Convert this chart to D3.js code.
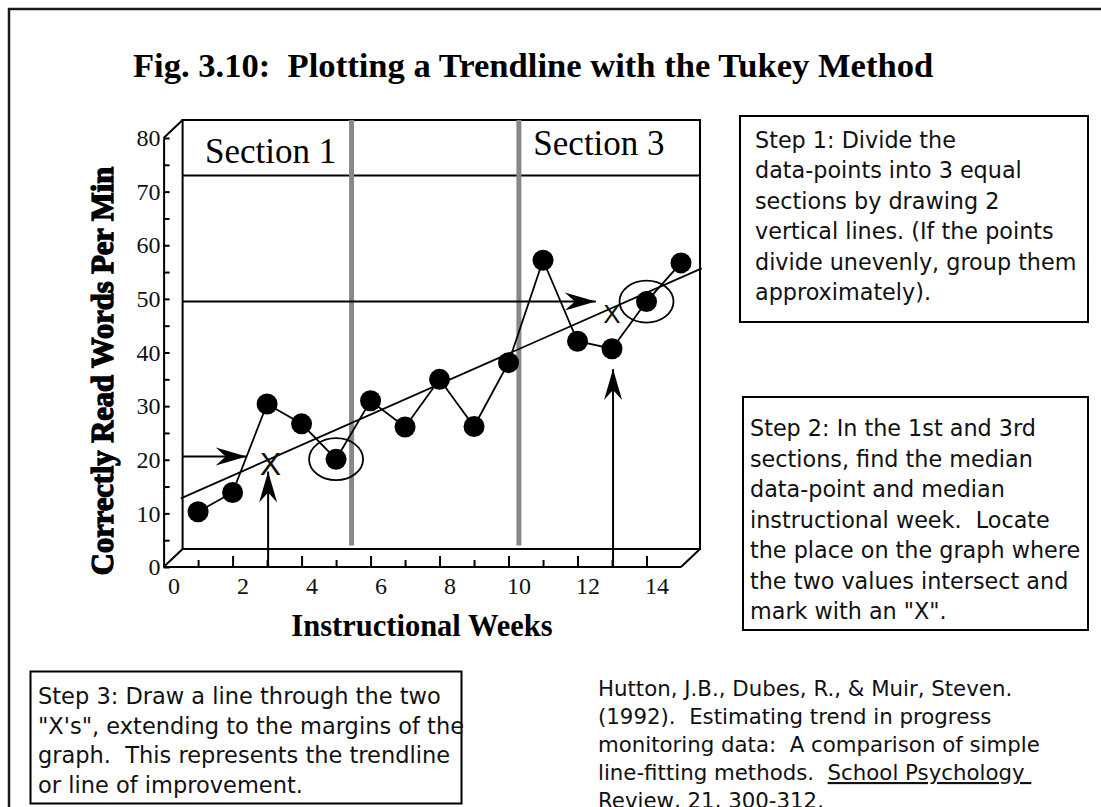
<!DOCTYPE html>
<html>
<head>
<meta charset="utf-8">
<script src="https://cdn.jsdelivr.net/npm/d3@7"></script>
<style>
  body { margin: 0; background: #fff; }
  svg { display: block; }
  text { white-space: pre; }
</style>
</head>
<body>
<script>
const width = 1101;
const height = 807;

// weekly scores
const weeks = d3.range(1, 16);
const wordsPerMin = [10.3, 13.9, 30.4, 26.7, 20.1, 31.0, 26.1, 35.0, 26.2, 38.1, 57.2, 42.1, 40.7, 49.5, 56.7];

// section dividers and their header labels
const sectionBreaks = [5.45, 10.3];
const sectionLabels = ['Section 1', 'Section 3'];
const sectionLabelWeeks = [1.2, 10.72];
const sectionLabelWpm = [75.4, 76.8];
const sectionRuleWpm = 73;

// Tukey medians, the X marks and the trendline
const medianPoints = [4, 13];          // index of the circled points
const tukeyWeeks = [3.1, 13.0];
const tukeyWpm = [19.3, 47.2];
const tukeySizes = [32, 26];
const trendWeeks = [0.5, 15.6];
const trendWpm = [12.8, 55.7];

// guide arrows
const hArrowWpm = [20.6, 49.5];
const hArrowTipWeeks = [2.41, 12.53];
const vArrowWeeks = [3.03, 13.03];
const vArrowTipWpm = [17.8, 36.9];

// ticks
const yTicks = d3.range(0, 81, 5);
const xTicks = d3.range(1, 15);
const xLabels = d3.range(0, 15, 2);

// text boxes
const step1Lines = [
  'Step 1: Divide the',
  'data-points into 3 equal',
  'sections by drawing 2',
  'vertical lines. (If the points',
  'divide unevenly, group them',
  'approximately).'
];
const step2Lines = [
  'Step 2: In the 1st and 3rd',
  'sections, find the median',
  'data-point and median',
  'instructional week.  Locate',
  'the place on the graph where',
  'the two values intersect and',
  'mark with an "X".'
];
const step3Lines = [
  'Step 3: Draw a line through the two',
  '"X\'s", extending to the margins of the',
  'graph.  This represents the trendline',
  'or line of improvement.'
];
const citeLines = [
  'Hutton, J.B., Dubes, R., & Muir, Steven.',
  '(1992).  Estimating trend in progress',
  'monitoring data:  A comparison of simple',
  'line-fitting methods.  |School Psychology ',
  'Review, 21, 300-312.'
];

const serif = '"Liberation Serif", "Times New Roman", serif';
const sans = '"DejaVu Sans", Verdana, sans-serif';

const svg = d3.select('body').append('svg')
  .attr('width', width)
  .attr('height', height);

// page border
svg.append('rect')
  .attr('x', 9).attr('y', 9)
  .attr('width', width + 50).attr('height', height + 50)
  .attr('fill', 'none').attr('stroke', '#1a1a1a').attr('stroke-width', 2.5);

svg.append('text')
  .attr('x', 133).attr('y', 77)
  .attr('font-family', serif).attr('font-weight', 'bold').attr('font-size', 34.6)
  .text('Fig. 3.10:  Plotting a Trendline with the Tukey Method');

const x = d3.scaleLinear().domain([0, 15]).range([163.6, 681]);
const y = d3.scaleLinear().domain([0, 80]).range([567, 138]);
const depthX = 19;
const depthY = -18;

const backLeft = x(0) + depthX;
const backRight = x(15) + depthX;
const backTop = y(80) + depthY;
const backBottom = y(0) + depthY;

const frame = svg.append('g')
  .attr('fill', 'none').attr('stroke', '#000').attr('stroke-width', 2);

frame.append('rect')
  .attr('x', backLeft).attr('y', backTop)
  .attr('width', backRight - backLeft).attr('height', backBottom - backTop);

frame.append('path')
  .attr('d', [
    `M${x(0)},${y(80)}L${backLeft},${backTop}`,
    `M${x(0)},${y(0)}L${backLeft},${backBottom}`,
    `M${x(15)},${y(0)}L${backRight},${backBottom}`,
    `M${x(0)},${y(0)}L${x(15)},${y(0)}`
  ].join(''));

// section header rule
frame.append('line')
  .attr('x1', backLeft).attr('x2', backRight)
  .attr('y1', y(sectionRuleWpm)).attr('y2', y(sectionRuleWpm));

// y axis (ticks point inward, labels outside)
const yAxis = svg.append('g')
  .attr('transform', `translate(${x(0)},0)`)
  .call(d3.axisLeft(y)
    .tickValues(yTicks)
    .tickSizeInner(-6)
    .tickSizeOuter(0)
    .tickPadding(3)
    .tickFormat((d) => (d % 10 ? '' : d)));
yAxis.select('.domain').attr('stroke-width', 2);
yAxis.selectAll('.tick line').attr('stroke-width', 2);
yAxis.selectAll('text')
  .attr('font-family', serif).attr('font-size', 24).attr('fill', '#111');

// x axis ticks: long on even weeks, short on odd
const xAxis = svg.append('g')
  .attr('transform', `translate(0,${y(0)})`)
  .call(d3.axisBottom(x).tickValues(xTicks).tickSizeInner(-11).tickSizeOuter(0).tickFormat(''));
xAxis.select('.domain').remove();
xAxis.selectAll('.tick line')
  .attr('stroke-width', 2)
  .attr('y2', (d) => (d % 2 ? -7 : -11));

const xLabelAxis = svg.append('g')
  .attr('transform', `translate(0,${y(0)})`)
  .call(d3.axisBottom(x).tickValues(xLabels).tickSize(0).tickPadding(10));
xLabelAxis.select('.domain').remove();
xLabelAxis.selectAll('text')
  .attr('dx', 10)
  .attr('font-family', serif).attr('font-size', 24).attr('fill', '#111');

svg.append('text')
  .attr('transform', 'translate(113,371) rotate(-90)')
  .attr('text-anchor', 'middle')
  .attr('font-family', serif).attr('font-weight', 'bold').attr('font-size', 30.5)
  .attr('stroke', '#000').attr('stroke-width', 1.3)
  .text('Correctly Read Words Per Min');

svg.append('text')
  .attr('x', 422).attr('y', 636)
  .attr('text-anchor', 'middle')
  .attr('font-family', serif).attr('font-weight', 'bold').attr('font-size', 30.5)
  .text('Instructional Weeks');

// section dividers
svg.selectAll('.divider')
  .data(sectionBreaks)
  .join('line')
  .attr('class', 'divider')
  .attr('x1', (d) => x(d)).attr('x2', (d) => x(d))
  .attr('y1', y(4)).attr('y2', backTop)
  .attr('stroke', '#888').attr('stroke-width', 5);

svg.selectAll('.section-label')
  .data(sectionLabels)
  .join('text')
  .attr('class', 'section-label')
  .attr('x', (d, i) => x(sectionLabelWeeks[i]))
  .attr('y', (d, i) => y(sectionLabelWpm[i]))
  .attr('font-family', serif).attr('font-size', 35)
  .text((d) => d);

// arrowhead
svg.append('defs').append('marker')
  .attr('id', 'head')
  .attr('viewBox', '-32 -11 34 22')
  .attr('refX', 0).attr('refY', 0)
  .attr('markerWidth', 34).attr('markerHeight', 22)
  .attr('markerUnits', 'userSpaceOnUse')
  .attr('orient', 'auto')
  .append('path')
  .attr('d', 'M0,0L-31,-9L-21,0L-31,9Z')
  .attr('fill', '#000');

const guides = svg.append('g')
  .attr('stroke', '#000').attr('stroke-width', 2);

guides.selectAll('.h-arrow')
  .data(hArrowWpm)
  .join('line')
  .attr('class', 'h-arrow')
  .attr('x1', backLeft).attr('x2', (d, i) => x(hArrowTipWeeks[i]))
  .attr('y1', (d) => y(d)).attr('y2', (d) => y(d))
  .attr('marker-end', 'url(#head)');

guides.selectAll('.v-arrow')
  .data(vArrowWeeks)
  .join('line')
  .attr('class', 'v-arrow')
  .attr('x1', (d) => x(d)).attr('x2', (d) => x(d))
  .attr('y1', y(0)).attr('y2', (d, i) => y(vArrowTipWpm[i]))
  .attr('marker-end', 'url(#head)');

// trendline
svg.append('line')
  .attr('x1', x(trendWeeks[0])).attr('y1', y(trendWpm[0]))
  .attr('x2', x(trendWeeks[1])).attr('y2', y(trendWpm[1]))
  .attr('stroke', '#000').attr('stroke-width', 1.8);

// data
const line = d3.line()
  .x((d, i) => x(weeks[i]))
  .y((d) => y(d));

svg.append('path')
  .datum(wordsPerMin)
  .attr('d', line)
  .attr('fill', 'none').attr('stroke', '#000').attr('stroke-width', 1.8);

svg.selectAll('.dot')
  .data(wordsPerMin)
  .join('circle')
  .attr('class', 'dot')
  .attr('cx', (d, i) => x(weeks[i]))
  .attr('cy', (d) => y(d))
  .attr('r', 10.5)
  .attr('fill', '#000');

svg.selectAll('.median-ring')
  .data(medianPoints)
  .join('ellipse')
  .attr('class', 'median-ring')
  .attr('cx', (d) => x(weeks[d]))
  .attr('cy', (d) => y(wordsPerMin[d]))
  .attr('rx', 27).attr('ry', 21)
  .attr('fill', 'none').attr('stroke', '#000').attr('stroke-width', 1.8);

svg.selectAll('.tukey-x')
  .data(tukeyWeeks)
  .join('text')
  .attr('class', 'tukey-x')
  .attr('x', (d) => x(d))
  .attr('y', (d, i) => y(tukeyWpm[i]))
  .attr('text-anchor', 'middle')
  .attr('dominant-baseline', 'central')
  .attr('font-family', '"Liberation Sans", Arial, sans-serif')
  .attr('font-size', (d, i) => tukeySizes[i])
  .attr('fill', '#111')
  .text('X');

// text boxes
function textBlock (lines, left, top, gap, size) {
  const t = svg.append('text')
    .attr('font-family', sans).attr('font-size', size).attr('fill', '#111');
  lines.forEach((str, i) => {
    const parts = str.split('|');
    t.append('tspan')
      .attr('x', left).attr('y', top + i * gap)
      .text(parts[0]);
    if (parts[1]) {
      t.append('tspan')
        .attr('text-decoration', 'underline')
        .text(parts[1]);
    }
  });
}

function box (bx, by, bw, bh) {
  svg.append('rect')
    .attr('x', bx).attr('y', by).attr('width', bw).attr('height', bh)
    .attr('fill', '#fff').attr('stroke', '#000').attr('stroke-width', 2);
}

box(740, 116, 348, 206);
textBlock(step1Lines, 755, 148, 30.4, 22.3);

box(743, 397, 345, 233);
textBlock(step2Lines, 750, 436, 30.5, 22.3);

box(30.5, 671.5, 431, 132);
textBlock(step3Lines, 38, 704, 29.5, 22.5);

textBlock(citeLines, 598, 696, 28, 21.3);
</script>
</body>
</html>
